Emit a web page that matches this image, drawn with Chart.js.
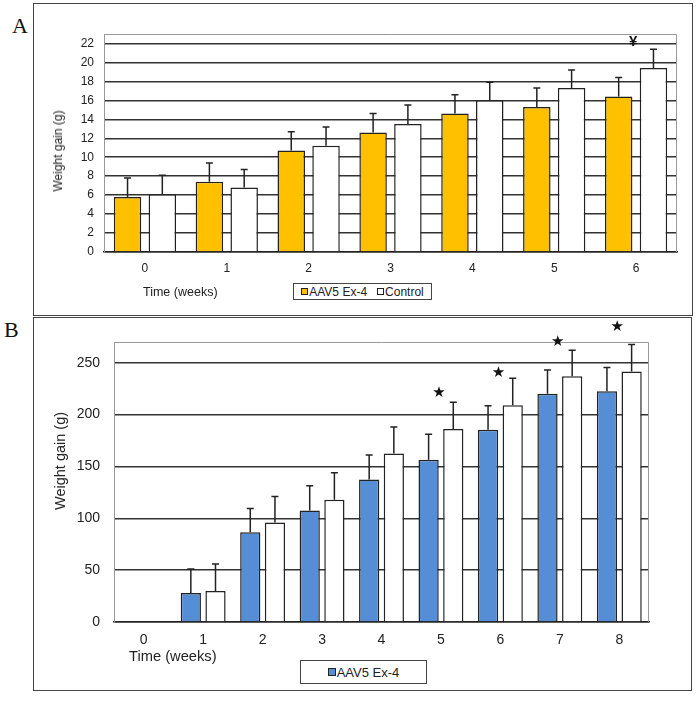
<!DOCTYPE html>
<html>
<head>
<meta charset="utf-8">
<script src="https://cdn.jsdelivr.net/npm/chart.js@4/dist/chart.umd.min.js"></script>
<style>
  body { margin: 0; background: #fff; width: 697px; height: 705px; position: relative; overflow: hidden; font-family: "Liberation Sans", Arial, sans-serif; color: #222; }
  .frame { position: absolute; border: 1.5px solid #444; box-sizing: border-box; }
  .panel { position: absolute; font-family: "Liberation Serif", "Times New Roman", serif; font-size: 22px; color: #111; }
  canvas { position: absolute; }
  .xtitle { position: absolute; white-space: nowrap; }
  .ytitle { position: absolute; white-space: nowrap; transform: translate(-50%, -50%) rotate(-90deg); }
  .legend { position: absolute; border: 1.5px solid #444; box-sizing: border-box; display: flex; align-items: center; justify-content: center; white-space: nowrap; background: #fff; }
  .legend span.sw { display: inline-block; border: 1px solid #222; box-sizing: border-box; margin-right: 1px; }
  .legend span.item { display: inline-flex; align-items: center; margin: 0 5px; }
</style>
</head>
<body>
<div class="panel" style="left:12px;top:13px">A</div>
<div class="frame" style="left:33px;top:3px;width:660px;height:313px"></div>
<canvas id="chartA" width="656" height="309" style="left:35px;top:5px"></canvas>
<div class="ytitle" style="left:58px;top:151px;font-size:12px">Weight gain (g)</div>
<div class="xtitle" style="left:143px;top:285px;font-size:12.5px">Time (weeks)</div>
<div class="legend" id="legendA" style="left:293px;top:283px;width:139px;height:17px;font-size:12px"></div>

<div class="panel" style="left:4px;top:317px">B</div>
<div class="frame" style="left:33px;top:317px;width:659px;height:374px"></div>
<canvas id="chartB" width="656" height="370" style="left:35px;top:319px"></canvas>
<div class="ytitle" style="left:60px;top:461px;font-size:14.5px">Weight gain (g)</div>
<div class="xtitle" style="left:129px;top:648px;font-size:14.7px">Time (weeks)</div>
<div class="legend" id="legendB" style="left:300px;top:660px;width:127px;height:24px;font-size:13px"></div>

<script>
// Panel A: weight gain, weeks 0-6
const weeksA = ["0", "1", "2", "3", "4", "5", "6"];
const aavA = [5.8, 7.4, 10.7, 12.6, 14.6, 15.3, 16.4];
const aavAErr = [2.0, 2.0, 2.0, 2.0, 2.0, 2.0, 2.0];
const controlA = [6.1, 6.8, 11.2, 13.5, 16.0, 17.3, 19.4];
const controlAErr = [2.0, 1.9, 2.0, 2.0, 1.9, 1.9, 2.0];
const yTicksA = [0, 2, 4, 6, 8, 10, 12, 14, 16, 18, 20, 22];
const markWeeksA = ["6"];
const markValuesA = [22.2];

// Panel B: weight gain, weeks 0-8
const weeksB = ["0", "1", "2", "3", "4", "5", "6", "7", "8"];
const aavB = [null, 28, 86.5, 107.5, 137.5, 156.5, 185.5, 220, 222.5];
const aavBErr = [null, 23, 23, 24, 23.5, 24.5, 23, 23, 23];
const controlB = [null, 30, 96, 118, 162.5, 186, 209, 237, 241.5];
const controlBErr = [null, 26, 25, 26, 25.5, 26, 26, 25, 26];
const yTicksB = [0, 50, 100, 150, 200, 250];
const markWeeksB = ["5", "6", "7", "8"];
const markValuesB = [221, 240, 270, 284];

const errorBars = {
  id: "errorBars",
  afterDatasetsDraw(chart) {
    const ctx = chart.ctx;
    const y = chart.scales.y;
    chart.data.datasets.forEach((ds, i) => {
      const meta = chart.getDatasetMeta(i);
      meta.data.forEach((bar, j) => {
        const v = ds.data[j];
        const e = ds.errors[j];
        if (v == null || !e) return;
        const top = y.getPixelForValue(v + e);
        ctx.save();
        ctx.strokeStyle = "#222";
        ctx.lineWidth = 1.5;
        ctx.beginPath();
        ctx.moveTo(bar.x, bar.y);
        ctx.lineTo(bar.x, top);
        ctx.moveTo(bar.x - 3.5, top);
        ctx.lineTo(bar.x + 3.5, top);
        ctx.stroke();
        ctx.restore();
      });
    });
  }
};

// grey frame on top/right of plot area, plus significance marks
const plotExtras = {
  id: "plotExtras",
  beforeDatasetsDraw(chart) {
    const { ctx, chartArea: a } = chart;
    ctx.save();
    ctx.strokeStyle = "#999";
    ctx.lineWidth = 1;
    ctx.beginPath();
    ctx.moveTo(a.left, a.top + 0.5);
    ctx.lineTo(a.right - 0.5, a.top + 0.5);
    ctx.lineTo(a.right - 0.5, a.bottom);
    ctx.stroke();
    ctx.restore();
  },
  afterDraw(chart, args, opts) {
    if (!opts.weeks) return;
    const { ctx, scales } = chart;
    ctx.save();
    ctx.fillStyle = "#111";
    ctx.font = opts.font;
    ctx.textAlign = "center";
    ctx.textBaseline = "middle";
    opts.weeks.forEach((w, i) => {
      const x = scales.x.getPixelForValue(scales.x.getLabels().indexOf(w)) + opts.dx;
      ctx.fillText(opts.text, x, scales.y.getPixelForValue(opts.values[i]));
    });
    ctx.restore();
  }
};

function makeChart(id, cfg) {
  return new Chart(document.getElementById(id), {
    type: "bar",
    data: {
      labels: cfg.labels,
      datasets: cfg.datasets.map((d) => ({
        label: d.label,
        data: d.data,
        errors: d.errors,
        backgroundColor: d.color,
        borderColor: "#222",
        borderWidth: 1.5,
        categoryPercentage: cfg.catPct,
        barPercentage: cfg.barPct
      }))
    },
    options: {
      responsive: false,
      animation: false,
      layout: { padding: { left: 0, right: cfg.padRight, top: cfg.padTop, bottom: 0 } },
      plugins: {
        legend: { display: false },
        tooltip: { enabled: false },
        plotExtras: cfg.marks
      },
      scales: {
        x: {
          grid: { display: false, drawTicks: false },
          border: { color: "#222", width: 1.5 },
          ticks: { color: "#222", font: { size: cfg.fontSize, family: "Liberation Sans" }, padding: cfg.xPad },
          afterFit: (s) => { s.height = cfg.xHeight; }
        },
        y: {
          min: 0,
          max: cfg.yMax,
          grid: { color: "#333", lineWidth: 1.5, drawTicks: false },
          border: { color: "#999", width: 1 },
          ticks: { color: "#222", font: { size: cfg.fontSize, family: "Liberation Sans" }, padding: cfg.yPad },
          afterBuildTicks: (axis) => { axis.ticks = cfg.yTicks.map((v) => ({ value: v })); },
          afterFit: (s) => { s.width = cfg.yWidth; }
        }
      }
    },
    plugins: [plotExtras, errorBars]
  });
}

function fillLegend(id, chart, shown, sw) {
  const box = document.getElementById(id);
  chart.data.datasets.filter((d) => shown.includes(d.label)).forEach((d) => {
    const item = document.createElement("span");
    item.className = "item";
    const s = document.createElement("span");
    s.className = "sw";
    s.style.width = sw + "px";
    s.style.height = sw + "px";
    s.style.background = d.backgroundColor;
    item.appendChild(s);
    item.appendChild(document.createTextNode(d.label));
    box.appendChild(item);
  });
}

const chartA = makeChart("chartA", {
  labels: weeksA,
  datasets: [
    { label: "AAV5 Ex-4", data: aavA, errors: aavAErr, color: "#FFC000" },
    { label: "Control", data: controlA, errors: controlAErr, color: "#FFFFFF" }
  ],
  catPct: 0.85, barPct: 0.79,
  yMax: 23, yTicks: yTicksA,
  padTop: 29, padRight: 14, xHeight: 62, yWidth: 69,
  fontSize: 12, xPad: 9, yPad: 10,
  marks: { weeks: markWeeksA, values: markValuesA, text: "¥", font: "bold 15px 'Liberation Sans'", dx: -3 }
});
fillLegend("legendA", chartA, ["AAV5 Ex-4", "Control"], 7);

const chartB = makeChart("chartB", {
  labels: weeksB,
  datasets: [
    { label: "AAV5 Ex-4", data: aavB, errors: aavBErr, color: "#558ED5" },
    { label: "Control", data: controlB, errors: controlBErr, color: "#FFFFFF" }
  ],
  catPct: 0.83, barPct: 0.82,
  yMax: 270, yTicks: yTicksB,
  padTop: 23, padRight: 42, xHeight: 67, yWidth: 79,
  fontSize: 14, xPad: 10, yPad: 14,
  marks: { weeks: markWeeksB, values: markValuesB, text: "★", font: "15px 'DejaVu Sans'", dx: -2 }
});
fillLegend("legendB", chartB, ["AAV5 Ex-4"], 8);
</script>
</body>
</html>
